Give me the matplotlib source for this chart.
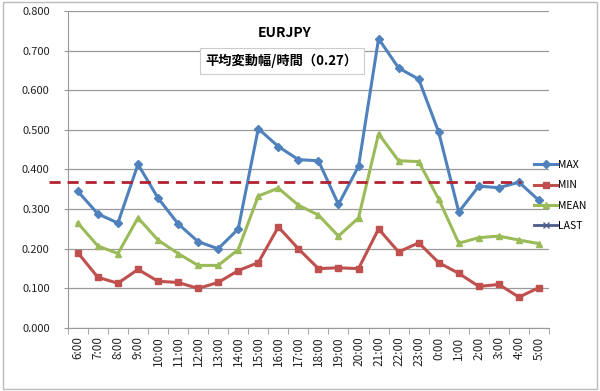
import numpy as np
import matplotlib.pyplot as plt

plt.rcParams['font.family'] = ['Noto Sans CJK JP', 'DejaVu Sans']

hours = ['6:00', '7:00', '8:00', '9:00', '10:00', '11:00', '12:00', '13:00',
         '14:00', '15:00', '16:00', '17:00', '18:00', '19:00', '20:00', '21:00',
         '22:00', '23:00', '0:00', '1:00', '2:00', '3:00', '4:00', '5:00']
max_vals = [0.345, 0.288, 0.265, 0.413, 0.328, 0.263, 0.218, 0.200, 0.250, 0.503,
            0.458, 0.425, 0.422, 0.312, 0.408, 0.730, 0.656, 0.628, 0.494, 0.293,
            0.358, 0.354, 0.368, 0.322]
min_vals = [0.190, 0.128, 0.113, 0.148, 0.118, 0.115, 0.100, 0.115, 0.145, 0.165,
            0.255, 0.200, 0.150, 0.152, 0.150, 0.250, 0.192, 0.215, 0.165, 0.138,
            0.105, 0.110, 0.078, 0.102]
mean_vals = [0.265, 0.207, 0.188, 0.278, 0.222, 0.188, 0.158, 0.158, 0.198, 0.333,
             0.353, 0.310, 0.285, 0.232, 0.278, 0.490, 0.422, 0.420, 0.325, 0.214,
             0.228, 0.232, 0.222, 0.213]
ref_level = 0.369

fig = plt.figure(figsize=(6, 3.91), dpi=100)
ax = fig.add_axes([0.113, 0.161, 0.802, 0.811])

x = np.arange(len(hours))
ax.plot(x, max_vals, color='#4F81BD', lw=2.2, marker='D', ms=4, label='MAX', zorder=3)
ax.plot(x, min_vals, color='#C0504D', lw=2.2, marker='s', ms=5, label='MIN', zorder=3)
ax.plot(x, mean_vals, color='#9BBB59', lw=2.2, marker='^', ms=5, label='MEAN', zorder=3)
ax.plot([], [], color='#4A5C8C', lw=2, marker='x', ms=5, label='LAST')

# dashed reference line (extends past the left axis)
ax.axhline(ref_level, xmin=-0.04, xmax=0.942, color='#B22232', lw=2,
           ls=(0, (4, 2.5)), clip_on=False, zorder=4)

ax.set_xlim(-0.5, len(hours) - 0.5)
ax.set_ylim(0, 0.8)
ax.set_yticks(np.arange(0, 0.81, 0.1))
ax.set_yticklabels(['%.3f' % v for v in np.arange(0, 0.81, 0.1)], fontsize=8, color='#222222')
ax.set_xticks(x)
ax.set_xticklabels(hours, rotation=90, fontsize=8.5, color='#222222')
ax.set_xticks(np.arange(-0.5, len(hours)), minor=True)
ax.tick_params(axis='x', which='major', length=0, pad=6)
ax.tick_params(axis='x', which='minor', length=4, color='#999999')
ax.tick_params(axis='y', length=3, color='#999999', pad=10)
ax.grid(axis='y', color='#999999', lw=0.9)
ax.set_axisbelow(True)
for s in ['top', 'right']:
    ax.spines[s].set_visible(False)
for s in ['left', 'bottom']:
    ax.spines[s].set_color('#999999')

fig.text(0.475, 0.915, 'EURJPY', fontsize=10, fontweight='bold', ha='center', va='center')
fig.text(0.343, 0.844, '平均変動幅/時間（0.27）', fontsize=9.5, fontweight='bold',
         ha='left', va='center',
         bbox=dict(boxstyle='square,pad=0.45', fc='white', ec='#cccccc', lw=0.8))

leg = ax.legend(loc='upper left', bbox_to_anchor=(0.95, 0.56), frameon=False,
                fontsize=7.5, handlelength=2.2, handletextpad=0.1, labelspacing=1.0)

# outer chart border
fig.patches.append(plt.Rectangle((0.005, 0.005), 0.99, 0.99, transform=fig.transFigure,
                                 fill=False, ec='#bbbbbb', lw=1))

fig.savefig('out.png', dpi=100, facecolor='white')
